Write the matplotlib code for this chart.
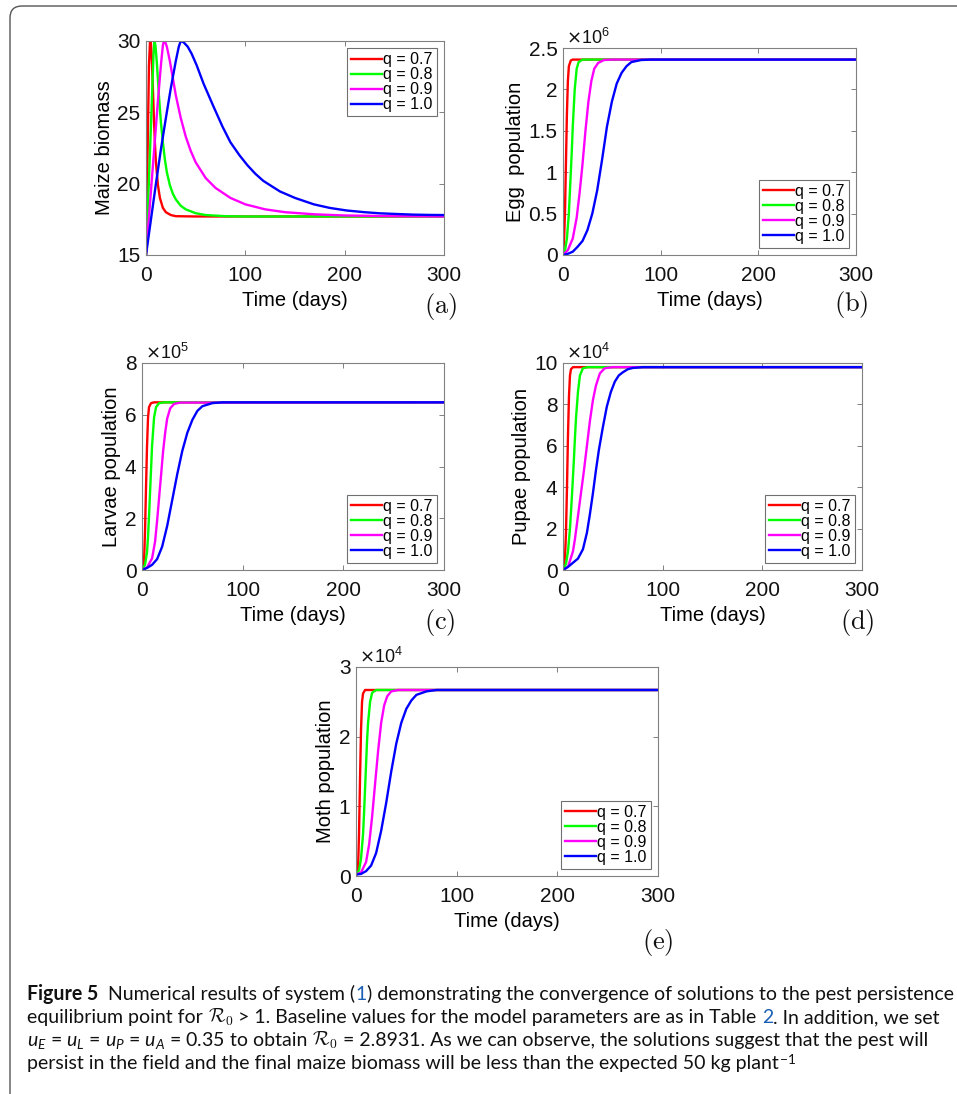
import numpy as np
import matplotlib.pyplot as plt
from matplotlib import font_manager
from matplotlib.patches import FancyBboxPatch
from matplotlib.transforms import IdentityTransform

plt.rcParams['font.family'] = ['Liberation Sans', 'DejaVu Sans']
plt.rcParams['mathtext.fontset'] = 'custom'
plt.rcParams['mathtext.rm'] = 'Lato'
plt.rcParams['mathtext.it'] = 'Lato:italic'

# legend entries / colours
q_labels = ['q = 0.7', 'q = 0.8', 'q = 0.9', 'q = 1.0']
q_colors = ['#ff0000', '#00ff00', '#ff00ff', '#0000ff']

# (a) maize biomass
maize_07_t = [0, 1, 2, 3, 4, 4.5, 5, 6, 7, 8, 9, 10, 12, 14, 17, 20, 25, 30, 50, 300]
maize_07 = [15, 19.5, 24, 28.3, 29.9, 30, 29.8, 28.5, 26.5, 24.5, 22.8, 21.5, 19.9, 19.0, 18.3, 18.0, 17.8, 17.72, 17.7, 17.7]
maize_08_t = [0, 2, 4, 6, 7.5, 8.5, 9.5, 11, 13, 15, 17, 19, 21, 24, 27, 30, 35, 40, 50, 60, 80, 100, 300]
maize_08 = [15, 18.5, 22.2, 26, 29, 30, 29.7, 28.4, 26.2, 24.3, 22.9, 21.7, 20.8, 19.9, 19.3, 18.9, 18.45, 18.2, 17.93, 17.8, 17.72, 17.7, 17.7]
maize_09_t = [0, 4, 8, 12, 15, 17, 18, 19.5, 21, 24, 27, 30, 35, 40, 45, 50, 60, 70, 85, 100, 120, 140, 170, 200, 250, 300]
maize_09 = [15, 18.6, 22.2, 25.8, 28.3, 29.7, 30, 29.9, 29.6, 28.6, 27.4, 26.2, 24.6, 23.3, 22.3, 21.5, 20.4, 19.7, 19.0, 18.55, 18.2, 18.0, 17.85, 17.77, 17.72, 17.7]
maize_10_t = [0, 5, 10, 15, 20, 25, 30, 33, 35, 38, 42, 46, 51, 58, 68, 77, 85, 94, 102, 110, 118, 127, 135, 150, 169, 185, 202, 220, 236, 250, 269, 285, 300]
maize_10 = [15, 17.5, 20.0, 22.4, 24.6, 26.7, 28.6, 29.6, 30, 29.9, 29.6, 29.1, 28.3, 27.0, 25.4, 24.0, 22.9, 22.0, 21.3, 20.7, 20.2, 19.8, 19.45, 19.0, 18.55, 18.3, 18.12, 18.0, 17.92, 17.88, 17.83, 17.81, 17.8]

# (b) eggs, x1e6
egg_07_t = [0, 1, 2, 3, 4, 5, 6, 8, 10, 300]
egg_07 = [0.02, 0.15, 0.5, 1.1, 1.7, 2.1, 2.28, 2.35, 2.36, 2.36]
egg_08_t = [0, 2, 4, 6, 8, 9, 10, 12, 14, 16, 20, 300]
egg_08 = [0.0, 0.05, 0.2, 0.5, 1.0, 1.25, 1.55, 2.0, 2.25, 2.33, 2.36, 2.36]
egg_09_t = [0, 5, 10, 14, 17, 20, 23, 26, 29, 32, 36, 42, 50, 300]
egg_09 = [0, 0.06, 0.2, 0.45, 0.75, 1.1, 1.5, 1.85, 2.1, 2.25, 2.32, 2.355, 2.36, 2.36]
egg_10_t = [0, 5, 10, 15, 20, 25, 30, 35, 40, 45, 50, 55, 60, 65, 70, 80, 90, 300]
egg_10 = [0, 0.015, 0.04, 0.1, 0.17, 0.3, 0.5, 0.78, 1.15, 1.55, 1.85, 2.07, 2.2, 2.28, 2.33, 2.355, 2.36, 2.36]

# (c) larvae, x1e5
larva_07_t = [0, 2, 3, 4, 5, 6, 7, 9, 12, 300]
larva_07 = [0.0, 0.3, 1.5, 3.2, 4.8, 5.9, 6.3, 6.45, 6.48, 6.48]
larva_08_t = [0, 3, 5, 6, 7, 8, 9, 10, 12, 14, 17, 22, 300]
larva_08 = [0, 0.2, 0.7, 1.3, 2.1, 3.0, 3.9, 4.8, 5.9, 6.3, 6.45, 6.48, 6.48]
larva_09_t = [0, 5, 10, 13, 15, 17, 19, 21, 23, 25, 28, 32, 38, 300]
larva_09 = [0, 0.1, 0.45, 1.1, 1.9, 2.8, 3.7, 4.6, 5.3, 5.85, 6.25, 6.42, 6.47, 6.48]
larva_10_t = [0, 5, 10, 15, 20, 25, 30, 35, 40, 45, 50, 55, 60, 70, 80, 300]
larva_10 = [0, 0.08, 0.2, 0.42, 0.9, 1.7, 2.7, 3.7, 4.6, 5.3, 5.8, 6.15, 6.33, 6.45, 6.48, 6.48]

# (d) pupae, x1e4
pupa_07_t = [0, 2, 3, 4, 5, 6, 7, 8, 10, 300]
pupa_07 = [0, 0.6, 1.8, 4.0, 6.5, 8.4, 9.4, 9.7, 9.8, 9.8]
pupa_08_t = [0, 3, 5, 7, 9, 10, 11, 12, 13, 15, 17, 20, 25, 300]
pupa_08 = [0, 0.3, 0.9, 2.0, 3.6, 4.5, 5.4, 6.4, 7.3, 8.6, 9.4, 9.75, 9.8, 9.8]
pupa_09_t = [0, 5, 10, 12, 15, 18, 21, 24, 27, 30, 33, 37, 42, 50, 300]
pupa_09 = [0, 0.15, 0.9, 1.5, 2.6, 3.7, 4.8, 6.0, 7.2, 8.2, 8.9, 9.5, 9.75, 9.8, 9.8]
pupa_10_t = [0, 5, 10, 15, 20, 24, 27, 30, 33, 36, 40, 44, 48, 52, 56, 60, 65, 70, 80, 300]
pupa_10 = [0, 0.15, 0.35, 0.55, 1.0, 1.8, 2.7, 3.7, 4.8, 5.8, 6.9, 7.9, 8.6, 9.1, 9.4, 9.55, 9.7, 9.76, 9.8, 9.8]

# (e) moths, x1e4
moth_07_t = [0, 2, 3, 4, 5, 6, 7, 9, 300]
moth_07 = [0.02, 0.1, 0.6, 1.4, 2.1, 2.5, 2.62, 2.67, 2.67]
moth_08_t = [0, 3, 5, 7, 8, 9, 10, 11, 12, 14, 16, 20, 300]
moth_08 = [0.02, 0.08, 0.25, 0.6, 0.9, 1.25, 1.6, 1.95, 2.2, 2.5, 2.63, 2.67, 2.67]
moth_09_t = [0, 5, 10, 13, 16, 19, 22, 25, 28, 31, 35, 42, 300]
moth_09 = [0.02, 0.05, 0.2, 0.45, 0.85, 1.33, 1.8, 2.2, 2.45, 2.58, 2.65, 2.67, 2.67]
moth_10_t = [0, 5, 10, 15, 20, 25, 30, 35, 40, 45, 50, 55, 60, 70, 80, 300]
moth_10 = [0.02, 0.03, 0.07, 0.15, 0.33, 0.65, 1.05, 1.5, 1.9, 2.2, 2.4, 2.52, 2.6, 2.65, 2.67, 2.67]

W, H = 957, 1094
fig = plt.figure(figsize=(W / 100, H / 100), dpi=100)


def px_axes(left, right, top, bottom):
    return fig.add_axes([left / W, 1 - bottom / H, (right - left) / W, (bottom - top) / H])


def panel(ax, curves, ylim, yticks, ytlabels, ylabel, legloc, mult=None):
    for (t, v), c, lab in zip(curves, q_colors, q_labels):
        ax.plot(t, v, color=c, lw=1.7, label=lab)
    ax.set_xlim(0, 300)
    ax.set_ylim(*ylim)
    ax.set_xticks([0, 100, 200, 300])
    ax.set_yticks(yticks)
    ax.set_yticklabels(ytlabels)
    ax.tick_params(direction='in', top=True, right=True, length=3.5, width=0.7,
                   color='#808080', labelsize=15, labelcolor='#111111')
    ax.tick_params(axis='x', pad=8)
    ax.tick_params(axis='y', pad=4)
    for s in ax.spines.values():
        s.set_color('#808080')
        s.set_linewidth(0.8)
    ax.set_xlabel('Time (days)', fontsize=14.5, labelpad=4)
    ax.set_ylabel(ylabel, fontsize=14.5, labelpad=2.5)
    leg = ax.legend(loc=legloc, fontsize=11.5, handlelength=1.9, handletextpad=0.1,
                    labelspacing=0.0, borderpad=0.25, borderaxespad=0.45,
                    fancybox=False, edgecolor='#707070', framealpha=1)
    leg.get_frame().set_linewidth(0.8)
    if mult is not None:
        ax.text(0.01, 1.0, r'$\times\mathregular{10^{%d}}$' % mult, transform=ax.transAxes,
                ha='left', va='bottom', fontsize=13, color='#111111', math_fontfamily='dejavusans')


ax_a = px_axes(146, 444, 41, 255)
panel(ax_a, [(maize_07_t, maize_07), (maize_08_t, maize_08), (maize_09_t, maize_09), (maize_10_t, maize_10)],
      (15, 30), [15, 20, 25, 30], ['15', '20', '25', '30'], 'Maize biomass', 'upper right')

ax_b = px_axes(563, 856, 48, 255)
panel(ax_b, [(egg_07_t, egg_07), (egg_08_t, egg_08), (egg_09_t, egg_09), (egg_10_t, egg_10)],
      (0, 2.5), [0, 0.5, 1, 1.5, 2, 2.5], ['0', '0.5', '1', '1.5', '2', '2.5'], 'Egg  population',
      'lower right', mult=6)

ax_c = px_axes(142, 444, 363, 570)
panel(ax_c, [(larva_07_t, larva_07), (larva_08_t, larva_08), (larva_09_t, larva_09), (larva_10_t, larva_10)],
      (0, 8), [0, 2, 4, 6, 8], ['0', '2', '4', '6', '8'], 'Larvae population', 'lower right', mult=5)

ax_d = px_axes(563, 862, 363, 570)
panel(ax_d, [(pupa_07_t, pupa_07), (pupa_08_t, pupa_08), (pupa_09_t, pupa_09), (pupa_10_t, pupa_10)],
      (0, 10), [0, 2, 4, 6, 8, 10], ['0', '2', '4', '6', '8', '10'], 'Pupae population', 'lower right', mult=4)

ax_e = px_axes(356, 658, 667, 876)
panel(ax_e, [(moth_07_t, moth_07), (moth_08_t, moth_08), (moth_09_t, moth_09), (moth_10_t, moth_10)],
      (0, 3), [0, 1, 2, 3], ['0', '1', '2', '3'], 'Moth population', 'lower right', mult=4)

# panel tags
for tag, x, y in [('a', 441, 307), ('b', 851, 305), ('c', 440, 623), ('d', 857, 623), ('e', 658, 942)]:
    fig.text(x / W, 1 - y / H, r'$\mathrm{(%s)}$' % tag, fontsize=19, math_fontfamily='cm',
             ha='center', va='center', color='#111111')

# outer frame
frame = FancyBboxPatch((10, -40), 1000, 1088 + 40, boxstyle='round,pad=0,rounding_size=12',
                       transform=IdentityTransform(), fill=False, edgecolor='#555555', lw=1.0)
fig.patches.append(frame)

# caption
blue = '#1a5fb4'
cap_lines = [
    [('Figure 5', dict(weight='bold')), ('  Numerical results of system (', {}), ('1', dict(color=blue)),
     (') demonstrating the convergence of solutions to the pest persistence', {})],
    [('equilibrium point for ', {}), (r'$\mathcal{R}_0$', dict(math_fontfamily='cm')),
     (' > 1. Baseline values for the model parameters are as in Table ', {}), ('2', dict(color=blue)),
     ('. In addition, we set', {})],
    [(r'$u_E$ = $u_L$ = $u_P$ = $u_A$ = 0.35', {}), (' to obtain ', {}),
     (r'$\mathcal{R}_0$', dict(math_fontfamily='cm')),
     (' = 2.8931. As we can observe, the solutions suggest that the pest will', {})],
    [('persist in the field and the final maize biomass will be less than the expected 50 kg plant', {}),
     (r'$^{-1}$', {})],
]
baselines = [94, 71, 48, 25]
x0 = 27
renderer = fig.canvas.get_renderer()


def draw_caption(size):
    out = []
    widths = []
    for pieces, yb in zip(cap_lines, baselines):
        x = x0
        for s, kw in pieces:
            kw = dict(kw)
            kw.setdefault('color', '#111111')
            t = fig.text(x, yb, s, transform=IdentityTransform(), ha='left', va='baseline',
                         fontsize=size, family=['Lato', 'DejaVu Sans'], **kw)
            x = t.get_window_extent(renderer).x1
            out.append(t)
        widths.append(x - x0)
    return out, widths


texts, widths = draw_caption(12)
scale = (953 - x0) / widths[0]
for t in texts:
    t.remove()
draw_caption(12 * scale)

fig.savefig('out.png', dpi=100)
